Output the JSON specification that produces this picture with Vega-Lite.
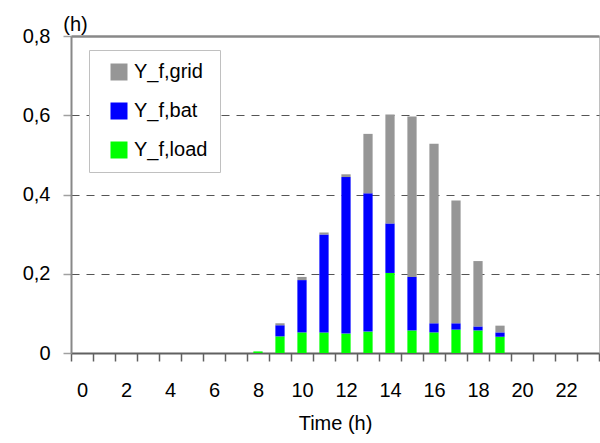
{
  "$schema": "https://vega.github.io/schema/vega-lite/v6.json",
  "width": 528,
  "height": 317,
  "autosize": "none",
  "padding": {"left": 71, "top": 36, "right": 1, "bottom": 90},
  "background": "white",
  "config": {
    "font": "Liberation Sans",
    "view": {"stroke": "#c0c0c0", "strokeWidth": 1}
  },
  "data": {
    "values": [
      {"h": 8, "s": "Y_f,load", "v": 0.004, "o": 1},
      {"h": 9, "s": "Y_f,load", "v": 0.042, "o": 1},
      {"h": 9, "s": "Y_f,bat", "v": 0.028, "o": 2},
      {"h": 9, "s": "Y_f,grid", "v": 0.005, "o": 3},
      {"h": 10, "s": "Y_f,load", "v": 0.052, "o": 1},
      {"h": 10, "s": "Y_f,bat", "v": 0.132, "o": 2},
      {"h": 10, "s": "Y_f,grid", "v": 0.008, "o": 3},
      {"h": 11, "s": "Y_f,load", "v": 0.052, "o": 1},
      {"h": 11, "s": "Y_f,bat", "v": 0.247, "o": 2},
      {"h": 11, "s": "Y_f,grid", "v": 0.005, "o": 3},
      {"h": 12, "s": "Y_f,load", "v": 0.049, "o": 1},
      {"h": 12, "s": "Y_f,bat", "v": 0.395, "o": 2},
      {"h": 12, "s": "Y_f,grid", "v": 0.007, "o": 3},
      {"h": 13, "s": "Y_f,load", "v": 0.054, "o": 1},
      {"h": 13, "s": "Y_f,bat", "v": 0.349, "o": 2},
      {"h": 13, "s": "Y_f,grid", "v": 0.150, "o": 3},
      {"h": 14, "s": "Y_f,load", "v": 0.202, "o": 1},
      {"h": 14, "s": "Y_f,bat", "v": 0.125, "o": 2},
      {"h": 14, "s": "Y_f,grid", "v": 0.275, "o": 3},
      {"h": 15, "s": "Y_f,load", "v": 0.057, "o": 1},
      {"h": 15, "s": "Y_f,bat", "v": 0.135, "o": 2},
      {"h": 15, "s": "Y_f,grid", "v": 0.405, "o": 3},
      {"h": 16, "s": "Y_f,load", "v": 0.052, "o": 1},
      {"h": 16, "s": "Y_f,bat", "v": 0.023, "o": 2},
      {"h": 16, "s": "Y_f,grid", "v": 0.453, "o": 3},
      {"h": 17, "s": "Y_f,load", "v": 0.059, "o": 1},
      {"h": 17, "s": "Y_f,bat", "v": 0.016, "o": 2},
      {"h": 17, "s": "Y_f,grid", "v": 0.310, "o": 3},
      {"h": 18, "s": "Y_f,load", "v": 0.057, "o": 1},
      {"h": 18, "s": "Y_f,bat", "v": 0.010, "o": 2},
      {"h": 18, "s": "Y_f,grid", "v": 0.165, "o": 3},
      {"h": 19, "s": "Y_f,load", "v": 0.041, "o": 1},
      {"h": 19, "s": "Y_f,bat", "v": 0.011, "o": 2},
      {"h": 19, "s": "Y_f,grid", "v": 0.017, "o": 3}
    ]
  },
  "mark": {"type": "bar", "width": {"band": 0.42}},
  "encoding": {
    "x": {
      "field": "h",
      "type": "ordinal",
      "scale": {"domain": [0,1,2,3,4,5,6,7,8,9,10,11,12,13,14,15,16,17,18,19,20,21,22,23], "paddingInner": 0, "paddingOuter": 0},
      "axis": {
        "title": "Time (h)",
        "titleFontSize": 20,
        "titleFontWeight": "normal",
        "titleColor": "#000",
        "titlePadding": 13,
        "labelAngle": 0,
        "labelFontSize": 20,
        "labelColor": "#000",
        "labelPadding": 19,
        "labelExpr": "datum.value % 2 == 0 ? datum.label : ''",
        "tickBand": "extent",
        "tickSize": 8,
        "tickColor": "#606060",
        "tickWidth": 1.5,
        "domainColor": "#606060",
        "domainWidth": 2,
        "grid": false
      }
    },
    "y": {
      "field": "v",
      "type": "quantitative",
      "stack": "zero",
      "scale": {"domain": [0, 0.8], "nice": false},
      "axis": {
        "title": "(h)",
        "titleAngle": 0,
        "titleAlign": "center",
        "titleBaseline": "middle",
        "titleX": 4,
        "titleY": -12,
        "titleFontSize": 20,
        "titleFontWeight": "normal",
        "titleColor": "#000",
        "values": [0, 0.2, 0.4, 0.6, 0.8],
        "labelExpr": "datum.value == 0 ? '0' : replace(format(datum.value, '.1f'), '.', ',')",
        "labelFontSize": 20,
        "labelColor": "#000",
        "labelPadding": 13,
        "tickSize": 8,
        "tickColor": "#a0a0a0",
        "tickWidth": 1.5,
        "domainColor": "#888888",
        "domainWidth": 2,
        "grid": true,
        "gridColor": {"condition": {"test": "datum.value >= 0.8", "value": "#888888"}, "value": "#555555"},
        "gridWidth": {"condition": {"test": "datum.value >= 0.8", "value": 2.5}, "value": 1},
        "gridDash": {"condition": {"test": "datum.value >= 0.8", "value": []}, "value": [8, 7]},
        "gridOpacity": {"condition": {"test": "datum.value == 0", "value": 0}, "value": 1}
      }
    },
    "color": {
      "field": "s",
      "type": "nominal",
      "scale": {"domain": ["Y_f,grid", "Y_f,bat", "Y_f,load"], "range": ["#969696", "#0000ff", "#00ff00"]},
      "legend": {
        "title": null,
        "orient": "none",
        "legendX": 18,
        "legendY": 14,
        "direction": "vertical",
        "fillColor": "white",
        "strokeColor": "#c0c0c0",
        "padding": 12,
        "symbolType": "square",
        "symbolSize": 289,
        "symbolStrokeWidth": 0,
        "symbolOpacity": 1,
        "symbolOffset": 8,
        "labelFontSize": 20,
        "labelColor": "#000",
        "labelOffset": 5,
        "rowPadding": 19
      }
    },
    "order": {"field": "o", "type": "quantitative", "sort": "ascending"}
  }
}
